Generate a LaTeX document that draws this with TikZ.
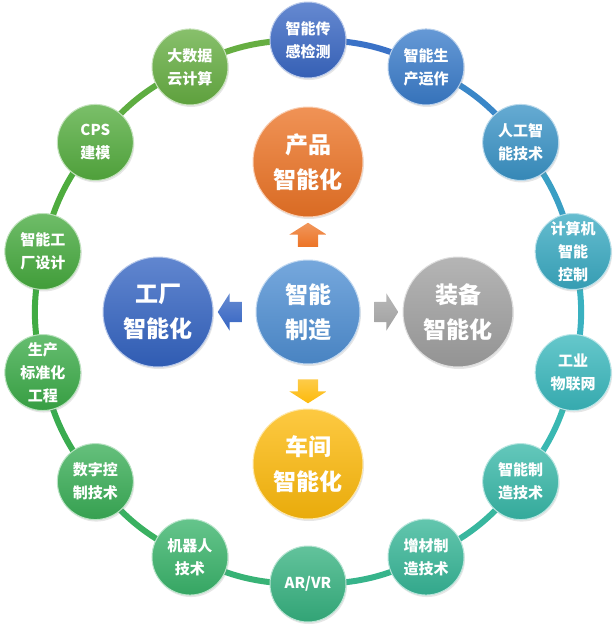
\documentclass[tikz,border=0pt]{standalone}
\usepackage{fontspec}
\setmainfont{Noto Sans CJK SC}
\usetikzlibrary{positioning,shapes.arrows,shadows,backgrounds}

% ring colours, clockwise from the top
\definecolor{c0}{HTML}{3A68C4}
\definecolor{c1}{HTML}{3A7CCA}
\definecolor{c2}{HTML}{3A93C6}
\definecolor{c3}{HTML}{3AAAC2}
\definecolor{c4}{HTML}{3AB8BD}
\definecolor{c5}{HTML}{38B8A8}
\definecolor{c6}{HTML}{37B697}
\definecolor{c7}{HTML}{36B280}
\definecolor{c8}{HTML}{3AB46B}
\definecolor{c9}{HTML}{3AAE57}
\definecolor{c10}{HTML}{3BAB48}
\definecolor{c11}{HTML}{46AA3E}
\definecolor{c12}{HTML}{55AD3F}
\definecolor{c13}{HTML}{66AE42}
\definecolor{midblue}{HTML}{4F8FD3}
\definecolor{prodorange}{HTML}{EC7426}
\definecolor{factblue}{HTML}{3464C2}
\definecolor{equipgray}{HTML}{A0A0A0}
\definecolor{shopyellow}{HTML}{FDBA0C}

\tikzset{
  ball/.style={circle, minimum size=76pt, inner sep=0pt, align=center,
    text=white, font=\bfseries\fontsize{15}{23}\selectfont,
    drop shadow={opacity=0.2, shadow xshift=1pt, shadow yshift=-2pt}},
  bigball/.style={circle, minimum size=110pt, inner sep=0pt, align=center,
    text=white, font=\bfseries\fontsize{23}{35}\selectfont,
    drop shadow={opacity=0.2, shadow xshift=1pt, shadow yshift=-2pt}},
  gloss/.style={top color=#1!78!white, bottom color=#1!92!black,
    draw=#1!35!white, line width=1pt},
  blockarrow/.style={single arrow, minimum height=24pt, inner xsep=0pt,
    inner ysep=10pt, single arrow head extend=8.5pt, single arrow tip angle=115,
    top color=#1!75!white, bottom color=#1, draw=none},
  upright/.style={inner xsep=10pt, inner ysep=0pt}
}

\begin{document}
\begin{tikzpicture}[x=1pt, y=-1pt]
  \useasboundingbox (0,0) rectangle (616,630);

  % outer ring of topics
  \foreach \k/\txt in {0/{智能传\\感检测}, 1/{智能生\\产运作}, 2/{人工智\\能技术},
      3/{计算机\\智能\\控制}, 4/{工业\\物联网}, 5/{智能制\\造技术}, 6/{增材制\\造技术},
      7/{AR/VR}, 8/{机器人\\技术}, 9/{数字控\\制技术}, 10/{生产\\标准化\\工程},
      11/{智能工\\厂设计}, 12/{CPS\\建模}, 13/{大数据\\云计算}}
    \node[ball, gloss=c\k] (n\k) at ({308+272*cos(90-\k*360/14)}, {312-272*sin(90-\k*360/14)}) {\txt};

  \begin{pgfonlayer}{background}
    \foreach \k [evaluate=\k as \j using {int(\k+1)}] in {0,...,12}
      \draw[line width=6pt, c\k!50!c\j] (n\k.center) to[bend left=13] (n\j.center);
    \draw[line width=6pt, c13] (n13.center) to[bend left=13] (n0.center);
  \end{pgfonlayer}

  % centre and the four fields
  \node[bigball, minimum size=104pt, gloss=midblue] (core) at (308,312) {智能\\制造};
  \node[bigball, gloss=prodorange] (product) at (308,162) {产品\\智能化};
  \node[bigball, gloss=factblue] (factory) at (158,312) {工厂\\智能化};
  \node[bigball, gloss=equipgray] (equip) at (458,312) {装备\\智能化};
  \node[bigball, gloss=shopyellow] (shop) at (308,464) {车间\\智能化};

  \node[blockarrow=prodorange, upright, shape border rotate=90] (toproduct) at (308,238) {};
  \node[blockarrow=factblue, shape border rotate=180] (tofactory) at (233,312) {};
  \node[blockarrow=equipgray, shape border rotate=0] (toequip) at (383,312) {};
  \node[blockarrow=shopyellow, upright, shape border rotate=270] (toshop) at (308,388) {};
\end{tikzpicture}
\end{document}
